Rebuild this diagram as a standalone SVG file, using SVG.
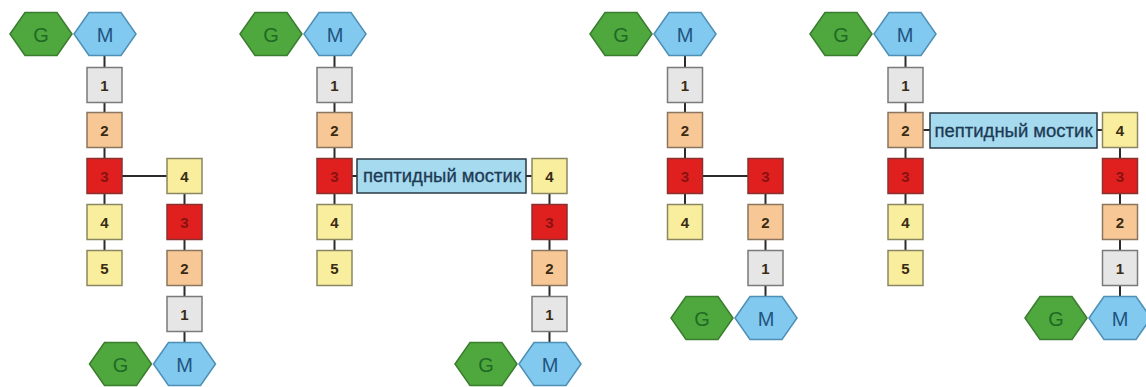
<svg xmlns="http://www.w3.org/2000/svg" xmlns:xlink="http://www.w3.org/1999/xlink" width="1146" height="387" viewBox="0 0 1146 387">
<style>
.hg{fill:#4ea83e;stroke:#3a7d2e;stroke-width:1.5}
.hm{fill:#82c9ef;stroke:#4e8fb5;stroke-width:1.5}
.b1{fill:#e6e6e6;stroke:#7a7a7a;stroke-width:1.5}
.b2{fill:#f7c796;stroke:#8a7660;stroke-width:1.5}
.b3{fill:#e0201e;stroke:#8a3030;stroke-width:1.5}
.b4{fill:#f8ee9e;stroke:#8a8660;stroke-width:1.5}
.br{fill:#a6daee;stroke:#2a3a44;stroke-width:1.5}
.tg{font-family:"Liberation Sans",Arial,sans-serif;font-size:20px;fill:#1f6a24;text-anchor:middle}
.tm{font-family:"Liberation Sans",Arial,sans-serif;font-size:20px;fill:#1f5580;text-anchor:middle}
.tn{font-family:"Liberation Sans",Arial,sans-serif;font-size:15px;font-weight:bold;fill:#3a2c14;text-anchor:middle}
.tr{font-family:"Liberation Sans",Arial,sans-serif;font-size:15px;font-weight:bold;fill:#8a1212;text-anchor:middle}
.tb{font-family:"Liberation Sans",Arial,sans-serif;font-size:18px;fill:#1d3a55;text-anchor:middle;stroke:#1d3a55;stroke-width:0.3}
.c line{stroke:#2b2b2b;stroke-width:2}
</style>
<defs>
<polygon id="hex" points="-31,0 -16,-21.5 16,-21.5 31,0 16,21.5 -16,21.5"/>
<rect id="box" x="-17.5" y="-17.5" width="35" height="35"/>
</defs>

<g id="connectors" class="c">
<line x1="104.5" y1="34" x2="104.5" y2="268"/>
<line x1="104.5" y1="176" x2="184.5" y2="176"/>
<line x1="184.5" y1="176" x2="184.5" y2="364"/>
<line x1="334.5" y1="34" x2="334.5" y2="268"/>
<line x1="334.5" y1="176" x2="549.5" y2="176"/>
<line x1="549.5" y1="176" x2="549.5" y2="364"/>
<line x1="685" y1="34" x2="685" y2="222"/>
<line x1="685" y1="176" x2="765.5" y2="176"/>
<line x1="765.5" y1="176" x2="765.5" y2="318"/>
<line x1="905.5" y1="34" x2="905.5" y2="268"/>
<line x1="905.5" y1="130" x2="1120" y2="130"/>
<line x1="1120" y1="130" x2="1120" y2="318"/>
</g>

<g id="p1-G1"><use xlink:href="#hex" x="41" y="34" class="hg"/><text x="41" y="41.5" class="tg">G</text></g>
<g id="p1-M1"><use xlink:href="#hex" x="105" y="34" class="hm"/><text x="105" y="41.5" class="tm">M</text></g>
<g id="p1-a1"><use xlink:href="#box" x="104.5" y="85" class="b1"/><text x="104.5" y="90.5" class="tn">1</text></g>
<g id="p1-a2"><use xlink:href="#box" x="104.5" y="130" class="b2"/><text x="104.5" y="135.5" class="tn">2</text></g>
<g id="p1-a3"><use xlink:href="#box" x="104.5" y="176" class="b3"/><text x="104.5" y="181.5" class="tr">3</text></g>
<g id="p1-a4"><use xlink:href="#box" x="104.5" y="222" class="b4"/><text x="104.5" y="227.5" class="tn">4</text></g>
<g id="p1-a5"><use xlink:href="#box" x="104.5" y="268" class="b4"/><text x="104.5" y="273.5" class="tn">5</text></g>
<g id="p1-b4"><use xlink:href="#box" x="184.5" y="176" class="b4"/><text x="184.5" y="181.5" class="tn">4</text></g>
<g id="p1-b3"><use xlink:href="#box" x="184.5" y="222" class="b3"/><text x="184.5" y="227.5" class="tr">3</text></g>
<g id="p1-b2"><use xlink:href="#box" x="184.5" y="268" class="b2"/><text x="184.5" y="273.5" class="tn">2</text></g>
<g id="p1-b1"><use xlink:href="#box" x="184.5" y="314" class="b1"/><text x="184.5" y="319.5" class="tn">1</text></g>
<g id="p1-G2"><use xlink:href="#hex" x="120.5" y="364" class="hg"/><text x="120.5" y="371.5" class="tg">G</text></g>
<g id="p1-M2"><use xlink:href="#hex" x="184.5" y="364" class="hm"/><text x="184.5" y="371.5" class="tm">M</text></g>

<g id="p2-G1"><use xlink:href="#hex" x="271" y="34" class="hg"/><text x="271" y="41.5" class="tg">G</text></g>
<g id="p2-M1"><use xlink:href="#hex" x="335" y="34" class="hm"/><text x="335" y="41.5" class="tm">M</text></g>
<g id="p2-a1"><use xlink:href="#box" x="334.5" y="85" class="b1"/><text x="334.5" y="90.5" class="tn">1</text></g>
<g id="p2-a2"><use xlink:href="#box" x="334.5" y="130" class="b2"/><text x="334.5" y="135.5" class="tn">2</text></g>
<g id="p2-a3"><use xlink:href="#box" x="334.5" y="176" class="b3"/><text x="334.5" y="181.5" class="tr">3</text></g>
<g id="p2-a4"><use xlink:href="#box" x="334.5" y="222" class="b4"/><text x="334.5" y="227.5" class="tn">4</text></g>
<g id="p2-a5"><use xlink:href="#box" x="334.5" y="268" class="b4"/><text x="334.5" y="273.5" class="tn">5</text></g>
<g id="p2-bridge"><rect x="357" y="159" width="169" height="34" class="br"/><text x="442" y="182" class="tb" textLength="158" lengthAdjust="spacingAndGlyphs">пептидный мостик</text></g>
<g id="p2-b4"><use xlink:href="#box" x="549.5" y="176" class="b4"/><text x="549.5" y="181.5" class="tn">4</text></g>
<g id="p2-b3"><use xlink:href="#box" x="549.5" y="222" class="b3"/><text x="549.5" y="227.5" class="tr">3</text></g>
<g id="p2-b2"><use xlink:href="#box" x="549.5" y="268" class="b2"/><text x="549.5" y="273.5" class="tn">2</text></g>
<g id="p2-b1"><use xlink:href="#box" x="549.5" y="314" class="b1"/><text x="549.5" y="319.5" class="tn">1</text></g>
<g id="p2-G2"><use xlink:href="#hex" x="486" y="364" class="hg"/><text x="486" y="371.5" class="tg">G</text></g>
<g id="p2-M2"><use xlink:href="#hex" x="550" y="364" class="hm"/><text x="550" y="371.5" class="tm">M</text></g>

<g id="p3-G1"><use xlink:href="#hex" x="621" y="34" class="hg"/><text x="621" y="41.5" class="tg">G</text></g>
<g id="p3-M1"><use xlink:href="#hex" x="685" y="34" class="hm"/><text x="685" y="41.5" class="tm">M</text></g>
<g id="p3-a1"><use xlink:href="#box" x="685" y="85" class="b1"/><text x="685" y="90.5" class="tn">1</text></g>
<g id="p3-a2"><use xlink:href="#box" x="685" y="130" class="b2"/><text x="685" y="135.5" class="tn">2</text></g>
<g id="p3-a3"><use xlink:href="#box" x="685" y="176" class="b3"/><text x="685" y="181.5" class="tr">3</text></g>
<g id="p3-a4"><use xlink:href="#box" x="685" y="222" class="b4"/><text x="685" y="227.5" class="tn">4</text></g>
<g id="p3-b3"><use xlink:href="#box" x="765.5" y="176" class="b3"/><text x="765.5" y="181.5" class="tr">3</text></g>
<g id="p3-b2"><use xlink:href="#box" x="765.5" y="222" class="b2"/><text x="765.5" y="227.5" class="tn">2</text></g>
<g id="p3-b1"><use xlink:href="#box" x="765.5" y="268" class="b1"/><text x="765.5" y="273.5" class="tn">1</text></g>
<g id="p3-G2"><use xlink:href="#hex" x="702" y="318" class="hg"/><text x="702" y="325.5" class="tg">G</text></g>
<g id="p3-M2"><use xlink:href="#hex" x="766" y="318" class="hm"/><text x="766" y="325.5" class="tm">M</text></g>

<g id="p4-G1"><use xlink:href="#hex" x="841" y="34" class="hg"/><text x="841" y="41.5" class="tg">G</text></g>
<g id="p4-M1"><use xlink:href="#hex" x="905" y="34" class="hm"/><text x="905" y="41.5" class="tm">M</text></g>
<g id="p4-a1"><use xlink:href="#box" x="905.5" y="85" class="b1"/><text x="905.5" y="90.5" class="tn">1</text></g>
<g id="p4-a2"><use xlink:href="#box" x="905.5" y="130" class="b2"/><text x="905.5" y="135.5" class="tn">2</text></g>
<g id="p4-a3"><use xlink:href="#box" x="905.5" y="176" class="b3"/><text x="905.5" y="181.5" class="tr">3</text></g>
<g id="p4-a4"><use xlink:href="#box" x="905.5" y="222" class="b4"/><text x="905.5" y="227.5" class="tn">4</text></g>
<g id="p4-a5"><use xlink:href="#box" x="905.5" y="268" class="b4"/><text x="905.5" y="273.5" class="tn">5</text></g>
<g id="p4-bridge"><rect x="930" y="113" width="167" height="35" class="br"/><text x="1013.5" y="136.5" class="tb" textLength="158" lengthAdjust="spacingAndGlyphs">пептидный мостик</text></g>
<g id="p4-b4"><use xlink:href="#box" x="1120" y="130" class="b4"/><text x="1120" y="135.5" class="tn">4</text></g>
<g id="p4-b3"><use xlink:href="#box" x="1120" y="176" class="b3"/><text x="1120" y="181.5" class="tr">3</text></g>
<g id="p4-b2"><use xlink:href="#box" x="1120" y="222" class="b2"/><text x="1120" y="227.5" class="tn">2</text></g>
<g id="p4-b1"><use xlink:href="#box" x="1120" y="268" class="b1"/><text x="1120" y="273.5" class="tn">1</text></g>
<g id="p4-G2"><use xlink:href="#hex" x="1056" y="318" class="hg"/><text x="1056" y="325.5" class="tg">G</text></g>
<g id="p4-M2"><use xlink:href="#hex" x="1120" y="318" class="hm"/><text x="1120" y="325.5" class="tm">M</text></g>
</svg>
